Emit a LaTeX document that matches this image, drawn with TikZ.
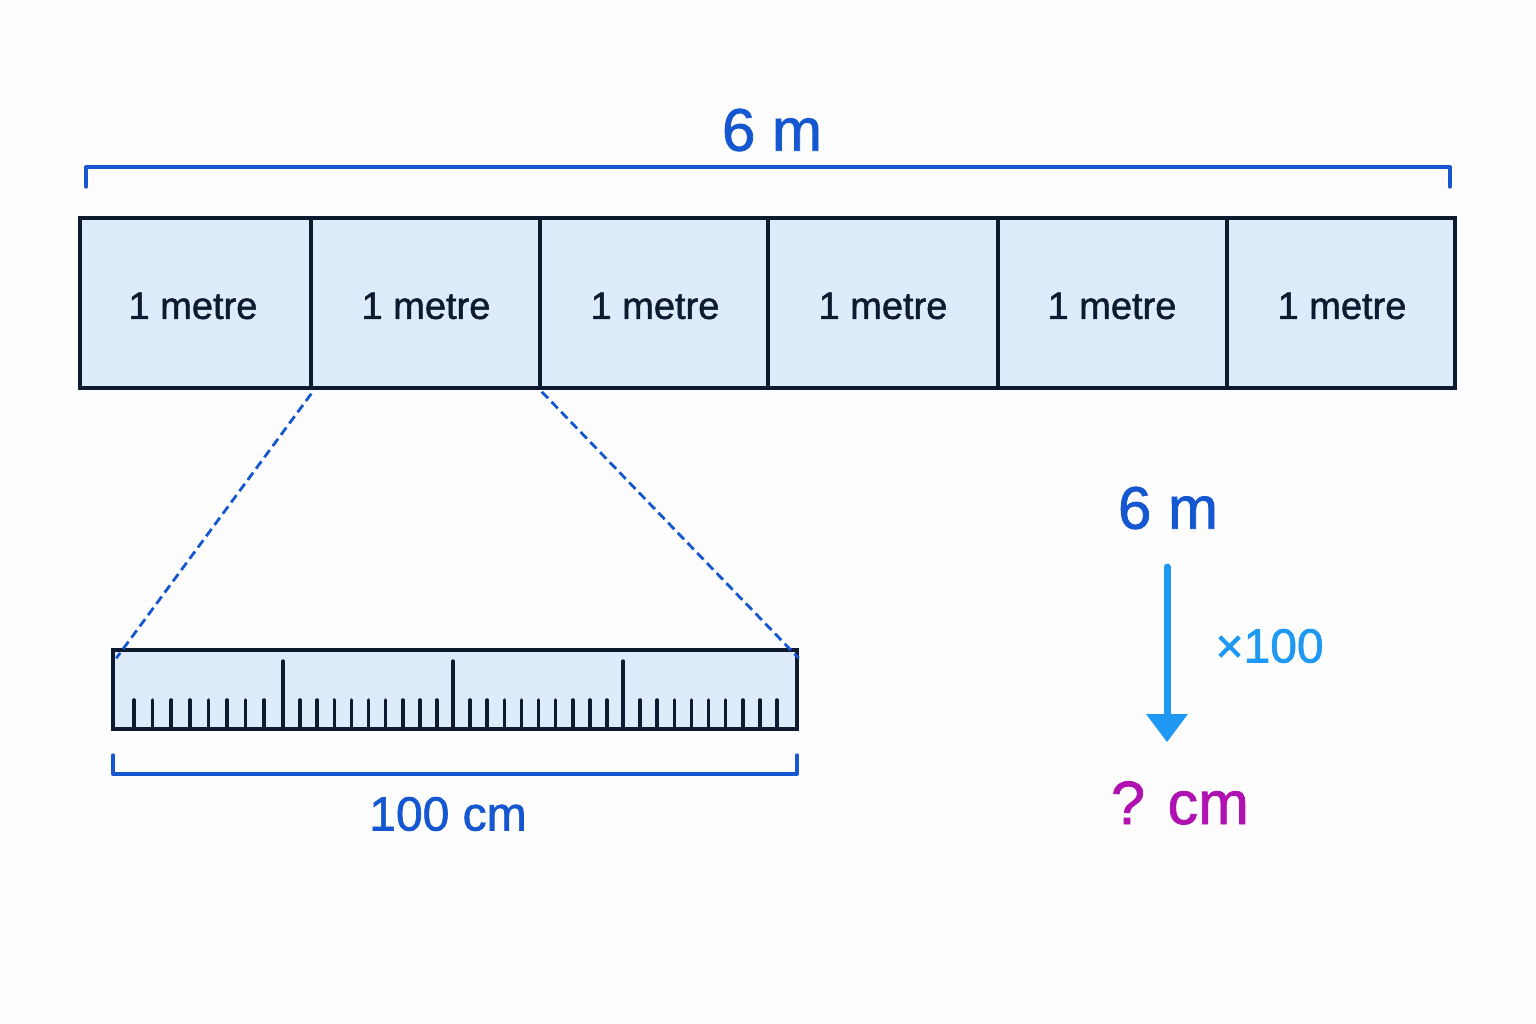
\documentclass[tikz,border=0pt]{standalone}
\usepackage{fontspec}
\setmainfont{Liberation Sans}[FakeBold=1.3]
\definecolor{navy}{HTML}{0E1A30}
\definecolor{cellfill}{HTML}{DEEBFB}
\definecolor{tblue}{HTML}{1457D0}
\definecolor{ablue}{HTML}{1E98F2}
\definecolor{qmag}{HTML}{B012B2}
\definecolor{bg}{HTML}{FDFDFD}
\tikzset{
  cell/.style={draw=navy, fill=cellfill, line width=3.5pt, minimum height=170pt, inner sep=0pt, text=navy, font=\fontsize{38}{40}\selectfont},
  bracketline/.style={draw=tblue, line width=3.3pt, line cap=round, line join=round},
  zoomline/.style={draw=tblue, line width=2.8pt, dash pattern=on 9pt off 5pt},
  smalltick/.style={draw=navy, line width=3.6pt, line cap=round},
  bigtick/.style={draw=navy, line width=3.4pt, line cap=round},
}
\begin{document}
\begin{tikzpicture}[x=1pt,y=-1pt]
\fill[bg] (0,0) rectangle (1536,1024);
\useasboundingbox (0,0) rectangle (1536,1024);
% top label and bracket
\node[text=tblue, font=\fontsize{60}{64}\selectfont] (top6m) at (772,130) {6 m};
\coordinate (tbl) at (86,187);
\coordinate (tbr) at (1450,187);
\draw[bracketline] (tbl) -- (86,167) -- (1450,167) -- (tbr);
% cells
\node[cell, minimum width=231pt] (c1) at (195.5,303) {};
\node[cell, minimum width=229pt] (c2) at (425.5,303) {};
\node[cell, minimum width=228pt] (c3) at (654,303) {};
\node[cell, minimum width=230pt] (c4) at (883,303) {};
\node[cell, minimum width=229pt] (c5) at (1112.5,303) {};
\node[cell, minimum width=228pt] (c6) at (1341,303) {};
\foreach \n/\x in {c1/193,c2/426,c3/655,c4/883,c5/1112,c6/1342}
  \node[text=navy, font=\fontsize{38}{40}\selectfont] (t\n) at (\x,306) {1 metre};
% ruler
\node[draw=navy, fill=cellfill, line width=3.5pt, minimum width=684pt, minimum height=79pt, inner sep=0pt] (ruler) at (455,689.5) {};
\foreach \x in {283,453,623} \draw[bigtick] (\x,729) -- (\x,661);
\foreach \i in {0,...,7} \draw[smalltick] ({134+\i*18.6},729) -- ({134+\i*18.6},700);
\foreach \m in {283,453,623} \foreach \k in {1,...,9} \draw[smalltick] ({\m+\k*17.1},729) -- ({\m+\k*17.1},700);
% zoom lines
\draw[zoomline] ([shift={(2pt,-4pt)}]c2.south west) -- ([shift={(5pt,-10pt)}]ruler.north west);
\draw[zoomline] ([shift={(0pt,-2pt)}]c2.south east) -- ([shift={(0pt,-10pt)}]ruler.north east);
% bottom bracket
\coordinate (bbl) at (113,755);
\coordinate (bbr) at (797,755);
\draw[bracketline] (bbl) -- (113,774) -- (797,774) -- (bbr);
\node[text=tblue, font=\fontsize{48}{52}\selectfont] (cm100) at (448,814) {100 cm};
% conversion
\node[text=tblue, font=\fontsize{60}{64}\selectfont] (r6m) at (1168,508) {6 m};
\node[text=qmag, font=\fontsize{61}{64}\selectfont] (qcm) at (1180,803) {? cm};
\node[text=ablue, font=\fontsize{48}{52}\selectfont, anchor=west] (x100) at (1212,646) {×100};
\coordinate (as) at (1167,567);
\coordinate (ae) at (1167,718);
\draw[draw=ablue, line width=7pt, line cap=round] (as) -- (ae);
\fill[ablue] (1146,714) -- (1188,714) -- (1167,742) -- cycle;
\end{tikzpicture}
\end{document}
